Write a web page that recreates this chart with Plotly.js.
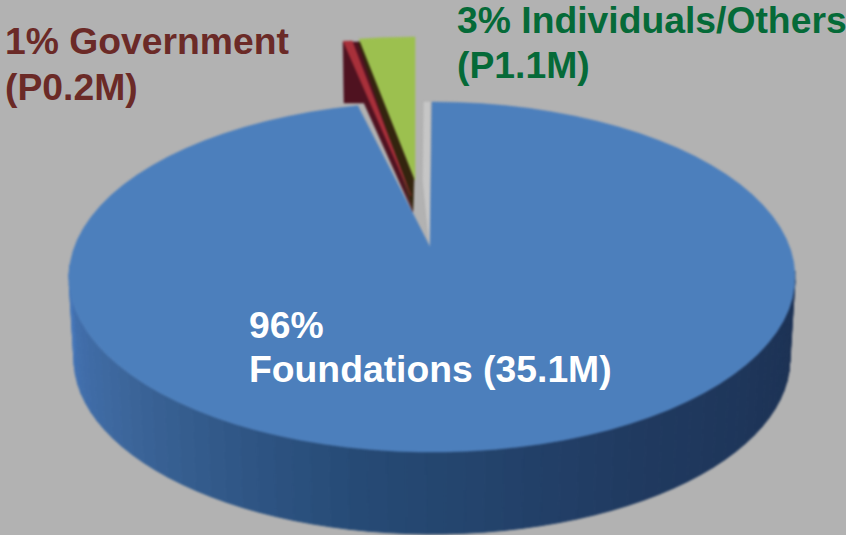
<!DOCTYPE html>
<html>
<head>
<meta charset="utf-8">
<script src="https://cdn.plot.ly/plotly-3.0.1.min.js"></script>
<style>
html,body{margin:0;padding:0;background:#b2b2b2;overflow:hidden}
#chart{width:846px;height:535px}
.scatterlayer{filter:blur(1px)}
</style>
</head>
<body>
<div id="chart"></div>
<script>
// Data
var categories = ["Foundations", "Government", "Individuals/Others"];
var shares = [96, 1, 3];
var amounts = ["35.1M", "P0.2M", "P1.1M"];

// Projection of the tilted pie
var DEG = Math.PI / 180;
var foreshorten = 0.82;
var face = {cx: 432, cy: 277, rx: 363, ry: 175};
var wall = {cx: 432, cy: 359, rx: 358, ry: 175};

function angleOf(share) { return share * 3.6 * foreshorten; }
function arc(e, a0, a1, n) {
  var xs = [], ys = [];
  for (var i = 0; i <= n; i++) {
    var a = (a0 + (a1 - a0) * i / n) * DEG;
    xs.push(e.cx + e.rx * Math.sin(a));
    ys.push(e.cy - e.ry * Math.cos(a));
  }
  return {x: xs, y: ys};
}
function mix(c1, c2, t) {
  var out = [];
  for (var i = 0; i < 3; i++) out.push(Math.round(c1[i] + (c2[i] - c1[i]) * t));
  return "rgb(" + out.join(",") + ")";
}
function poly(xs, ys, color, name, lineWidth) {
  return {
    type: "scatter", mode: "lines", x: xs.concat([xs[0]]), y: ys.concat([ys[0]]),
    fill: "toself", fillcolor: color, name: name,
    line: {color: color, width: lineWidth === undefined ? 0.5 : lineWidth},
    hoverinfo: "skip", showlegend: false
  };
}
function sector(apex, e, a0, a1, color, name) {
  var a = arc(e, a0, a1, 90);
  return poly([apex[0]].concat(a.x), [apex[1]].concat(a.y), color, name);
}

var traces = [];

// Side wall of the big slice
var stops = [
  [0.00, [27, 48, 82]],
  [0.30, [32, 58, 96]],
  [0.55, [38, 74, 117]],
  [0.80, [60, 102, 155]],
  [0.93, [66, 112, 175]],
  [1.00, [72, 122, 190]]
];
function wallColor(t) {
  for (var i = 1; i < stops.length; i++) {
    if (t <= stops[i][0]) {
      return mix(stops[i-1][1], stops[i][1], (t - stops[i-1][0]) / (stops[i][0] - stops[i-1][0]));
    }
  }
  return "rgb(72,122,190)";
}
var bands = 60;
for (var b = 0; b < bands; b++) {
  var a0 = 88 + (274 - 88) * b / bands, a1 = 88 + (274 - 88) * (b + 1) / bands;
  var t1 = arc(face, a0, a1, 3), w1 = arc(wall, a0, a1, 3);
  traces.push(poly(t1.x.concat(w1.x.slice().reverse()), t1.y.concat(w1.y.slice().reverse()),
    wallColor(b / bands), categories[0] + " side", 1));
}

// Pale cut edge beside the opening, then the top face of the big slice
traces.push(poly([423, 430, 430, 424], [180, 250, 102, 102], "#c6c6c6", categories[0] + " edge"));
var gap = angleOf(shares[1] + shares[2]);
traces.push(sector([430, 247], face, 0, 360 - gap, "#4c7fbc", categories[0]));

// Exploded slices
var sliceTop = {cx: 415, cy: 212, rx: 363, ry: 175};
var redTop = {cx: 353, cy: 216, rx: 190, ry: 175};
traces.push(poly([343, 344, 364, 413, 360], [42, 103, 103, 212, 42], "#4f1220", categories[1] + " side"));
traces.push(poly([358, 364, 414, 413], [42, 42, 178, 210], "#33240e", categories[2] + " side"));
traces.push(sector([411, 196], redTop, 0, -angleOf(shares[1]), "#a8303a", categories[1]));
traces.push(sector([415, 180], sliceTop, 0, -angleOf(shares[2]), "#9cc04f", categories[2]));

function label(x, y, text, color) {
  return {
    xref: "x", yref: "y", x: x, y: y, text: "<b>" + text + "</b>", showarrow: false,
    xanchor: "left", yanchor: "middle", align: "left",
    font: {family: "Liberation Sans, Arial, sans-serif", size: 37.3, color: color},
    borderpad: 0, borderwidth: 0
  };
}
var annotations = [
  label(5, 41, shares[1] + "% " + categories[1], "#6b2a27"),
  label(5, 87, "(" + amounts[1] + ")", "#6b2a27"),
  label(457, 20, shares[2] + "% " + categories[2], "#056a38"),
  label(457, 65, "(" + amounts[2] + ")", "#056a38"),
  label(249, 325, shares[0] + "%", "#ffffff"),
  label(249, 369, categories[0] + " (" + amounts[0] + ")", "#ffffff")
];

var layout = {
  width: 846, height: 535,
  margin: {l: 0, r: 0, t: 0, b: 0},
  paper_bgcolor: "#b2b2b2", plot_bgcolor: "#b2b2b2",
  xaxis: {range: [0, 846], visible: false, fixedrange: true},
  yaxis: {range: [535, 0], visible: false, fixedrange: true},
  showlegend: false,
  annotations: annotations
};
Plotly.newPlot("chart", traces, layout, {displayModeBar: false, staticPlot: true});
</script>
</body>
</html>
